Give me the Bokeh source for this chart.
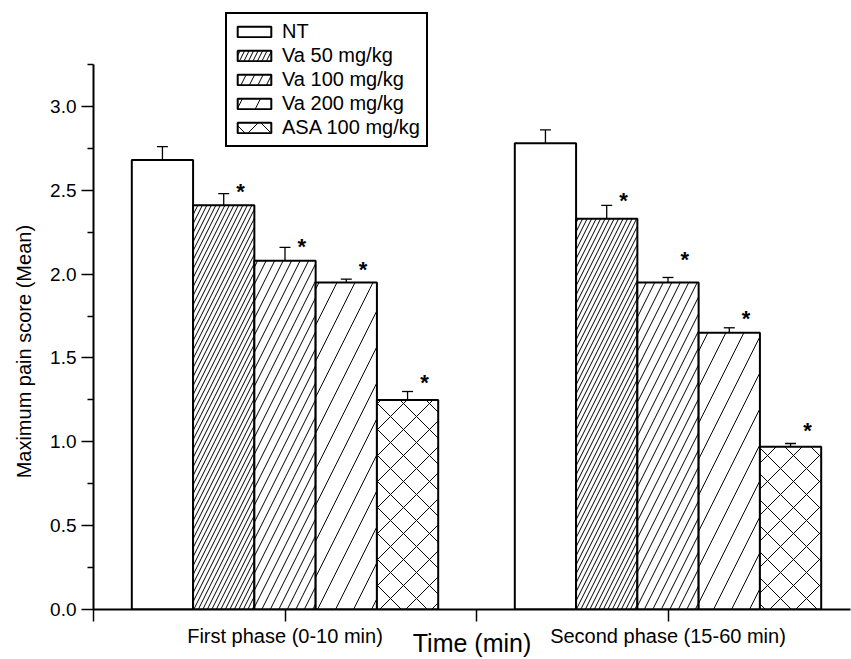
from bokeh.plotting import figure
from bokeh.models import (Range1d, FixedTicker, PrintfTickFormatter, Whisker, TeeHead,
                          ColumnDataSource, Legend, LegendItem)
from bokeh.core.properties import value
from bokeh.embed import file_html
from bokeh.resources import INLINE

# ---- data ----
phases = ["First phase (0-10 min)", "Second phase (15-60 min)"]
phase_pos = [1, 3]
groups = ["NT", "Va 50 mg/kg", "Va 100 mg/kg", "Va 200 mg/kg", "ASA 100 mg/kg"]

nt_mean = [2.68, 2.78]
va50_mean = [2.41, 2.33]
va100_mean = [2.08, 1.95]
va200_mean = [1.95, 1.65]
asa_mean = [1.25, 0.97]

nt_err = [0.08, 0.08]
va50_err = [0.07, 0.08]
va100_err = [0.08, 0.03]
va200_err = [0.02, 0.03]
asa_err = [0.05, 0.02]

# heights of the significance asterisks (None = no asterisk)
nt_star = None
va50_star = [2.49, 2.44]
va100_star = [2.165, 2.09]
va200_star = [2.03, 1.735]
asa_star = [1.355, 1.067]

y_ticks = [0.0, 0.5, 1.0, 1.5, 2.0, 2.5, 3.0]
y_minor = [0.25, 0.75, 1.25, 1.75, 2.25, 2.75, 3.25]
y_axis_max = 3.25

means = [nt_mean, va50_mean, va100_mean, va200_mean, asa_mean]
errs = [nt_err, va50_err, va100_err, va200_err, asa_err]
stars = [nt_star, va50_star, va100_star, va200_star, asa_star]

FONT = "Liberation Sans"
PX_PER_X = 191.5
PX_PER_Y = 167.69
W, H = 851, 659
B_LEFT, B_RIGHT, B_TOP, B_BOTTOM = 93, 1, 10, 50
FRAME_W = W - B_LEFT - B_RIGHT
FRAME_H = H - B_TOP - B_BOTTOM

p = figure(width=W, height=H, output_backend="svg", toolbar_location=None,
           x_range=Range1d(0, FRAME_W / PX_PER_X), y_range=Range1d(0, FRAME_H / PX_PER_Y),
           min_border_left=B_LEFT, min_border_right=B_RIGHT, min_border_top=B_TOP,
           min_border_bottom=B_BOTTOM)
p.xgrid.visible = False
p.ygrid.visible = False
p.outline_line_color = None
p.background_fill_color = "white"

bar_w = 0.32
hatch = [None, "/", "/", "/", "x"]
hscale = [12, 9, 17, 36, 26]

items = []
for i in range(len(groups)):
    xs = [c + (i - 2) * bar_w for c in phase_pos]
    m = means[i]
    e = errs[i]
    data = dict(x=xs, top=m, upper=[a + b for a, b in zip(m, e)])
    src = ColumnDataSource(data)
    kw = {}
    if hatch[i]:
        kw = dict(hatch_pattern=hatch[i], hatch_scale=hscale[i], hatch_color="black", hatch_weight=1)
    r = p.vbar(x="x", top="top", width=bar_w, source=src, fill_color="white",
               line_color="black", line_width=2, **kw)
    w = Whisker(source=src, base="x", lower="top", upper="upper", line_color="black",
                line_width=1.3, upper_head=TeeHead(size=11, line_width=1.3, line_color="black"),
                lower_head=None)
    p.add_layout(w)
    items.append(LegendItem(label=groups[i], renderers=[r]))
    if stars[i] is not None:
        ssrc = ColumnDataSource(dict(x=[x + 0.088 for x in xs], y=stars[i], t=["*", "*"]))
        p.text(x="x", y="y", text="t", source=ssrc, text_font=value(FONT),
               text_font_size="22px", text_font_style="bold", text_align="center",
               text_baseline="middle", text_color="black")

legend = Legend(items=items, location=(132, 462), border_line_color="black",
                border_line_width=2, border_line_alpha=1.0, padding=6, spacing=1,
                glyph_width=42, glyph_height=13, label_height=20, label_standoff=7,
                label_text_font=FONT, label_text_font_size="20px", label_text_color="black",
                margin=0, background_fill_alpha=1.0)
p.add_layout(legend)

# x axis
xa = p.xaxis[0]
xa.ticker = FixedTicker(ticks=[0, 1, 2, 3], minor_ticks=[])
xa.major_label_overrides = {0: "", 1: phases[0], 2: "", 3: phases[1]}
xa.axis_label = "Time (min)"
xa.axis_label_standoff = -21
xa.axis_label_text_font = FONT
xa.axis_label_text_font_size = "25px"
xa.axis_label_text_font_style = "normal"
xa.major_tick_out = 12
xa.major_tick_in = 0
xa.major_label_standoff = 3
xa.major_label_text_font = FONT
xa.major_label_text_font_size = "20px"
xa.axis_line_width = 2
xa.major_tick_line_width = 1.5
xa.axis_line_color = "black"
xa.major_tick_line_color = "black"
xa.major_label_text_color = "black"
xa.axis_label_text_color = "black"

# y axis
ya = p.yaxis[0]
ya.bounds = (0, y_axis_max)
ya.ticker = FixedTicker(ticks=y_ticks, minor_ticks=y_minor)
ya.formatter = PrintfTickFormatter(format="%.1f")
ya.major_tick_out = 12
ya.major_tick_in = 0
ya.minor_tick_out = 6
ya.minor_tick_in = 0
ya.major_label_standoff = 5
ya.major_label_text_font = FONT
ya.major_label_text_font_size = "19px"
ya.axis_label = "Maximum pain score (Mean)" + "\u00a0" * 15
ya.axis_label_text_font = FONT
ya.axis_label_text_font_size = "20px"
ya.axis_label_text_font_style = "normal"
ya.axis_label_standoff = 12
ya.axis_line_width = 2
ya.major_tick_line_width = 1.5
ya.minor_tick_line_width = 1.5
ya.axis_line_color = "black"
ya.major_tick_line_color = "black"
ya.minor_tick_line_color = "black"
ya.major_label_text_color = "black"
ya.axis_label_text_color = "black"

open("out.html", "w").write(file_html(p, INLINE))
